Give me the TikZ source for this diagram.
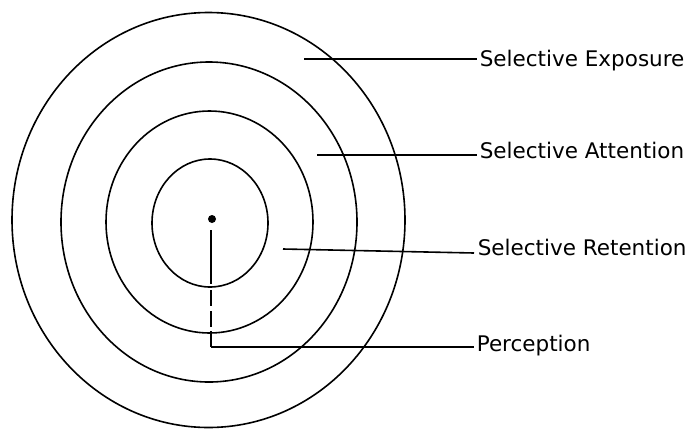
\documentclass[tikz,border=0pt]{standalone}
\usepackage{fontspec}
\setmainfont{DejaVu Sans}
\usetikzlibrary{calc}

\begin{document}
\begin{tikzpicture}[x=1pt,y=-1pt,line width=1.6pt,
  lab/.style={anchor=base west,inner sep=0pt,font=\fontsize{21.5}{24}\selectfont}]
\useasboundingbox (0,0) rectangle (690,429);
% rings
\draw (208.5,220) ellipse [x radius=196.5pt,y radius=207.5pt];
\draw (209,222) ellipse [x radius=148pt,y radius=160pt];
\draw (209.5,222) ellipse [x radius=103.5pt,y radius=111pt];
\draw (210,223) ellipse [x radius=58pt,y radius=64pt];
\coordinate (ctr) at (212,219); \fill (ctr) circle (4pt);
% labels
\node[lab] (expo) at (479,66) {Selective Exposure};
\node[lab] (att) at (479,158) {Selective Attention};
\node[lab] (ret) at (477,255) {Selective Retention};
\node[lab] (perc) at (476,351) {Perception};
% leader lines
\coordinate (e1) at (304,59); \coordinate (a1) at (317,155); \coordinate (r1) at (283,249);
\coordinate (p0) at (211,230); \coordinate (p1) at (211,347);
\draw (e1) -- ([xshift=-2pt]e1 -| expo.west);
\draw (a1) -- ([xshift=-2pt]a1 -| att.west);
\draw (r1) -- ([shift={(-3,-2)}]ret.base west);
\draw[dash pattern=on 54pt off 6pt on 16pt off 5pt on 16pt off 4pt on 20pt] (p0) -- (p1);
\draw (p1) -- ([xshift=-2pt]p1 -| perc.west);
\end{tikzpicture}
\end{document}
